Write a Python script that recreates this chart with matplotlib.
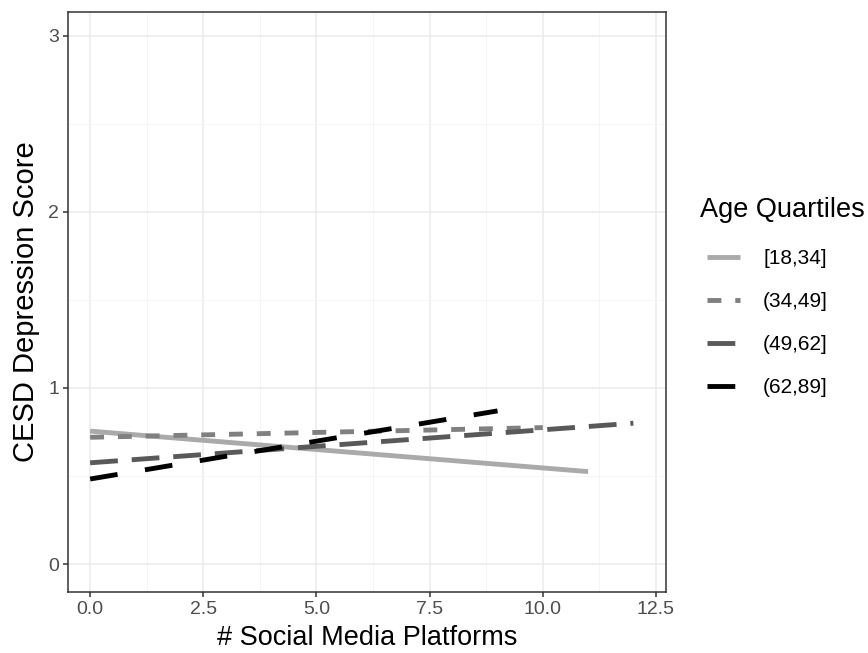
import numpy as np
import matplotlib
matplotlib.use('Agg')
import matplotlib.pyplot as plt
from matplotlib.ticker import MultipleLocator, FormatStrFormatter

plt.rcParams['font.family'] = ['Liberation Sans', 'DejaVu Sans']
plt.rcParams['lines.scale_dashes'] = False

# fitted lines per age quartile: (x start, x end), (y start, y end)
groups = ['[18,34]', '(34,49]', '(49,62]', '(62,89]']
x_start = [0, 0, 0, 0]
x_end = [11, 10, 12, 9]
y_start = [0.755, 0.72, 0.575, 0.483]
y_end = [0.525, 0.775, 0.80, 0.87]

colors = ['#aaaaaa', '#808080', '#595959', '#000000']
dashes = [None, (10, 10), (20, 10), (20, 20)]

fig = plt.figure(figsize=(8.68, 6.53), dpi=100)
ax = fig.add_axes([0.0783, 0.0934, 0.6889, 0.8882])

for g, x0, x1, y0, y1, c, d in zip(groups, x_start, x_end, y_start, y_end, colors, dashes):
    line, = ax.plot([x0, x1], [y0, y1], color=c, lw=3.5, label=g,
                    solid_capstyle='butt', dash_capstyle='butt')
    if d is not None:
        line.set_dashes(d)

ax.set_xlim(-0.49, 12.72)
ax.set_ylim(-0.159, 3.136)
ax.xaxis.set_major_locator(MultipleLocator(2.5))
ax.xaxis.set_minor_locator(MultipleLocator(1.25))
ax.yaxis.set_major_locator(MultipleLocator(1))
ax.yaxis.set_minor_locator(MultipleLocator(0.5))
ax.xaxis.set_major_formatter(FormatStrFormatter('%.1f'))
ax.yaxis.set_major_formatter(FormatStrFormatter('%d'))

ax.grid(which='major', color='#ebebeb', lw=1.1)
ax.grid(which='minor', color='#f4f4f4', lw=0.6)
ax.set_axisbelow(True)
for s in ax.spines.values():
    s.set_color('#333333')
    s.set_linewidth(1.1)
ax.tick_params(which='major', length=3.5, width=1.1, color='#333333',
               labelcolor='#4d4d4d', labelsize=14, pad=3)
ax.tick_params(which='minor', length=0)

ax.set_xlabel('# Social Media Platforms', fontsize=19.5, labelpad=5)
ax.set_ylabel('CESD Depression Score', fontsize=21, labelpad=6)

# legend title drawn separately so the keys can be indented like ggplot
fig.text(700 / 868, 1 - 210 / 653, 'Age Quartiles', fontsize=19.5, ha='left', va='center')
leg = ax.legend(loc='upper left', bbox_to_anchor=(707 / 868, 1 - 249 / 653),
                bbox_transform=fig.transFigure, frameon=False, fontsize=15,
                handlelength=1.6, labelspacing=1.15, handletextpad=1.1,
                borderaxespad=0, borderpad=0)

fig.savefig('out.png', dpi=100)
